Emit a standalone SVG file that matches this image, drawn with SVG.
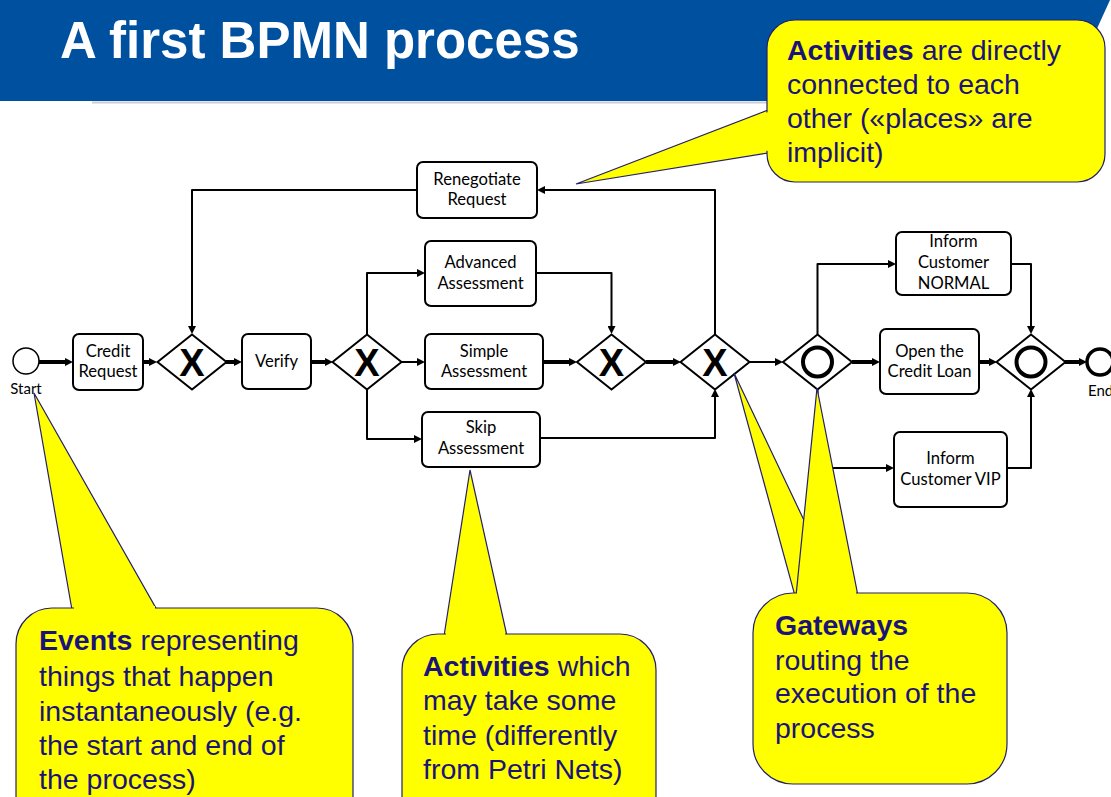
<svg xmlns="http://www.w3.org/2000/svg" width="1111" height="797" viewBox="0 0 1111 797">
  <style>
    .box { fill: #fff; stroke: #000; stroke-width: 2; }
    .gw { fill: #fff; stroke: #000; stroke-width: 2; }
    .lbl { font-family: Lato, "Liberation Sans", sans-serif; font-size: 16.6px; fill: #000; text-anchor: middle; }
    .xmark { font-family: "Liberation Sans", Arial, sans-serif; font-size: 38px; font-weight: bold; fill: #000; text-anchor: middle; }
    .thin { fill: none; stroke: #000; stroke-width: 2; stroke-linejoin: round; marker-end: url(#arr); }
    .thick { fill: none; stroke: #000; stroke-width: 4; marker-end: url(#arr); }
    .note { fill: #ffff00; stroke: #23206e; stroke-width: 1.2; }
    .ntxt { font-family: "Liberation Sans", Arial, sans-serif; font-size: 28.5px; fill: #1b1478; }
    .ntxt tspan.b { font-weight: bold; }
  </style>
  <defs>
    <marker id="arr" viewBox="0 0 8 8" refX="0" refY="4" markerWidth="8" markerHeight="8" markerUnits="userSpaceOnUse" orient="auto">
      <path d="M0,0 L8,4 L0,8 z" fill="#000"/>
    </marker>
  </defs>

  <rect width="1111" height="797" fill="#fff"/>

  <!-- title band -->
  <g id="header">
    <polygon points="0,0 1110,0 1064,101 0,101" fill="#0050a0"/>
    <line x1="92" y1="102.5" x2="1060" y2="102.5" stroke="#c9ced8" stroke-width="2"/>
    <text x="60" y="58" font-family="Liberation Sans, Arial, sans-serif" font-size="51" font-weight="bold" fill="#fff">A first BPMN process</text>
  </g>

  <!-- sequence flows -->
  <g id="connectors">
    <path class="thick" d="M39,362 H65"/>
    <path class="thick" d="M143,362 H149"/>
    <path class="thick" d="M226,362 H234"/>
    <path class="thick" d="M311,362 H325"/>
    <path class="thin" d="M401,362 H417"/>
    <path class="thin" d="M367,334 V273 H417"/>
    <path class="thin" d="M367,389 V439 H414"/>
    <path class="thin" d="M536,273 H611.5 V326"/>
    <path class="thick" d="M543,362 H569"/>
    <path class="thin" d="M540,438 H715 V397"/>
    <path class="thick" d="M646,362 H673"/>
    <path class="thin" d="M715,334 V190 H545"/>
    <path class="thin" d="M417,190 H192 V326"/>
    <path class="thin" d="M749,362 H775"/>
    <path class="thick" d="M852,362 H872"/>
    <path class="thin" d="M817.5,334 V264 H888"/>
    <path class="thin" d="M817.5,389 V468 H886"/>
    <path class="thick" d="M979,362 H989"/>
    <path class="thin" d="M1011,264 H1031 V326"/>
    <path class="thin" d="M1007,468 H1031 V397"/>
    <path class="thick" d="M1065,362 H1079"/>
  </g>

  <!-- events -->
  <g id="start">
    <circle cx="26" cy="361" r="13" fill="#fff" stroke="#000" stroke-width="1.5"/>
    <text class="lbl" x="26" y="394" style="font-size:15px">Start</text>
  </g>
  <g id="end">
    <circle cx="1100" cy="362" r="13" fill="#fff" stroke="#000" stroke-width="3.5"/>
    <text class="lbl" x="1088" y="396" style="font-size:15px;text-anchor:start">End</text>
  </g>

  <!-- tasks -->
  <g id="credit-request">
    <rect class="box" x="73" y="334" width="70" height="56" rx="6"/>
    <text class="lbl" x="108" y="357">Credit</text>
    <text class="lbl" x="108" y="377">Request</text>
  </g>
  <g id="verify">
    <rect class="box" x="242" y="334" width="69" height="55" rx="6"/>
    <text class="lbl" x="276.5" y="367">Verify</text>
  </g>
  <g id="advanced-assessment">
    <rect class="box" x="425" y="241" width="111" height="65" rx="6"/>
    <text class="lbl" x="480.5" y="268">Advanced</text>
    <text class="lbl" x="480.5" y="289">Assessment</text>
  </g>
  <g id="simple-assessment">
    <rect class="box" x="425" y="334" width="118" height="55" rx="6"/>
    <text class="lbl" x="484" y="357">Simple</text>
    <text class="lbl" x="484" y="377">Assessment</text>
  </g>
  <g id="skip-assessment">
    <rect class="box" x="422" y="412" width="118" height="55" rx="6"/>
    <text class="lbl" x="481" y="433">Skip</text>
    <text class="lbl" x="481" y="454">Assessment</text>
  </g>
  <g id="renegotiate-request">
    <rect class="box" x="417" y="162" width="120" height="56" rx="6"/>
    <text class="lbl" x="477" y="185">Renegotiate</text>
    <text class="lbl" x="477" y="205">Request</text>
  </g>
  <g id="inform-normal">
    <rect class="box" x="896" y="232" width="115" height="63" rx="6"/>
    <text class="lbl" x="953.5" y="247">Inform</text>
    <text class="lbl" x="953.5" y="268">Customer</text>
    <text class="lbl" x="953.5" y="289">NORMAL</text>
  </g>
  <g id="open-credit-loan">
    <rect class="box" x="880" y="329" width="99" height="65" rx="6"/>
    <text class="lbl" x="929.5" y="357">Open the</text>
    <text class="lbl" x="929.5" y="377">Credit Loan</text>
  </g>
  <g id="inform-vip">
    <rect class="box" x="894" y="432" width="113" height="75" rx="6"/>
    <text class="lbl" x="950.5" y="464">Inform</text>
    <text class="lbl" x="950.5" y="485">Customer VIP</text>
  </g>

  <!-- gateways -->
  <g id="xor-1">
    <polygon class="gw" points="157.5,362 192,334.5 226.5,362 192,389.5"/>
    <text class="xmark" x="192" y="376">X</text>
  </g>
  <g id="xor-2">
    <polygon class="gw" points="332.5,362 367,334.5 401.5,362 367,389.5"/>
    <text class="xmark" x="367" y="376">X</text>
  </g>
  <g id="xor-3">
    <polygon class="gw" points="577,362 611.5,334.5 646,362 611.5,389.5"/>
    <text class="xmark" x="611.5" y="376">X</text>
  </g>
  <g id="xor-4">
    <polygon class="gw" points="680.5,362 715,334.5 749.5,362 715,389.5"/>
    <text class="xmark" x="715" y="376">X</text>
  </g>
  <g id="or-split">
    <polygon class="gw" points="783,362 817.5,334.5 852,362 817.5,389.5"/>
    <circle cx="817.5" cy="362" r="14.5" fill="none" stroke="#000" stroke-width="4"/>
  </g>
  <g id="or-join">
    <polygon class="gw" points="996.5,362 1031,334.5 1065.5,362 1031,389.5"/>
    <circle cx="1031" cy="362" r="14.5" fill="none" stroke="#000" stroke-width="4"/>
  </g>

  <!-- annotation callouts -->
  <g id="note-activities-connected">
    <polygon class="note" points="768,110 576,184 768,153"/>
    <rect class="note" x="767" y="20" width="338" height="162" rx="28"/>
    <polygon points="769,112 769,151 760,150 760,114" fill="#ffff00"/>
    <text class="ntxt" x="787" y="60"><tspan class="b">Activities</tspan> are directly</text>
    <text class="ntxt" x="787" y="94">connected to each</text>
    <text class="ntxt" x="787" y="128">other («places» are</text>
    <text class="ntxt" x="787" y="162">implicit)</text>
  </g>
  <g id="note-events">
    <polygon class="note" points="72,610 34,393 157,610"/>
    <rect class="note" x="16" y="608" width="337" height="230" rx="36"/>
    <polygon points="74,606 155,606 155,611 74,611" fill="#ffff00"/>
    <text class="ntxt" x="39" y="650"><tspan class="b">Events</tspan> representing</text>
    <text class="ntxt" x="39" y="686">things that happen</text>
    <text class="ntxt" x="39" y="721">instantaneously (e.g.</text>
    <text class="ntxt" x="39" y="755">the start and end of</text>
    <text class="ntxt" x="39" y="789">the process)</text>
  </g>
  <g id="note-activities-time">
    <polygon class="note" points="444,636 470,470 507,636"/>
    <rect class="note" x="402" y="634" width="254" height="200" rx="36"/>
    <polygon points="446,632 505,632 505,637 446,637" fill="#ffff00"/>
    <text class="ntxt" x="423" y="676"><tspan class="b">Activities</tspan> which</text>
    <text class="ntxt" x="423" y="710">may take some</text>
    <text class="ntxt" x="423" y="745">time (differently</text>
    <text class="ntxt" x="423" y="779">from Petri Nets)</text>
  </g>
  <g id="note-gateways">
    <polygon class="note" points="734,373 795,596 840,596"/>
    <polygon class="note" points="817,388 796,596 858,596"/>
    <rect class="note" x="753" y="593" width="254" height="191" rx="40"/>
    <polygon points="797,591 856,591 856,596 797,596" fill="#ffff00"/>
    <text class="ntxt" x="775" y="635"><tspan class="b">Gateways</tspan></text>
    <text class="ntxt" x="775" y="670">routing the</text>
    <text class="ntxt" x="775" y="703">execution of the</text>
    <text class="ntxt" x="775" y="738">process</text>
  </g>
</svg>
